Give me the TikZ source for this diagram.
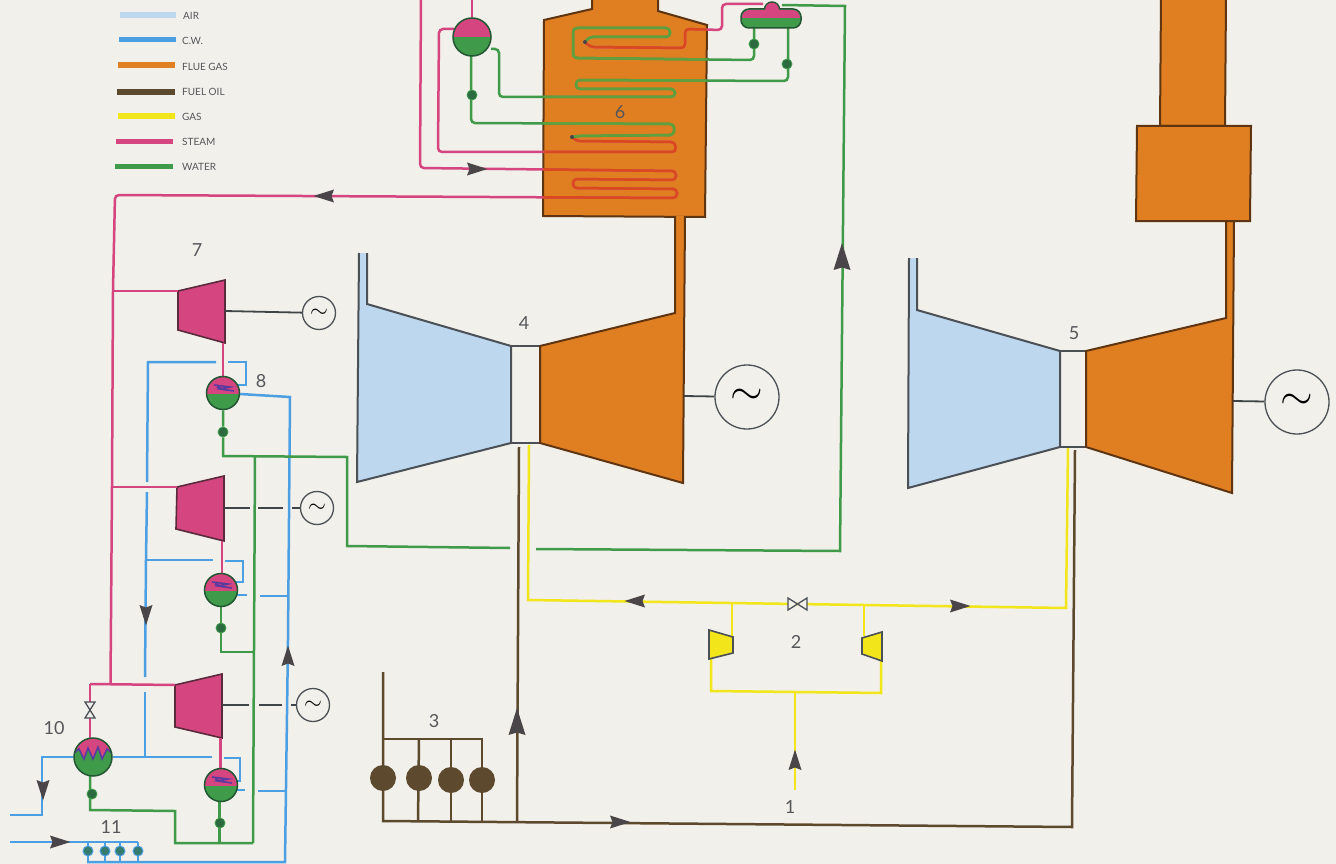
\documentclass[tikz,border=0pt]{standalone}
\usepackage{fontspec}
\usepackage{graphicx}
\setmainfont{Lato}
\usetikzlibrary{calc}
\pgfdeclarelayer{fg}
\pgfsetlayers{main,fg}
\definecolor{paper}{HTML}{F1F0EA}
\definecolor{airc}{HTML}{BCD7EE}
\definecolor{cwc}{HTML}{4C9FE2}
\definecolor{fluec}{HTML}{E07F22}
\definecolor{fluedk}{HTML}{5F3410}
\definecolor{oilc}{HTML}{5D4A2E}
\definecolor{gasc}{HTML}{F2E51A}
\definecolor{steamc}{HTML}{D5457F}
\definecolor{steamdk}{HTML}{5A2A3D}
\definecolor{redc}{HTML}{D9481F}
\definecolor{waterc}{HTML}{3F9A4A}
\definecolor{waterin}{HTML}{5F9F3E}
\definecolor{waterdk}{HTML}{2C6B3F}
\definecolor{steelc}{HTML}{4A5055}
\definecolor{txtc}{HTML}{55565A}
\definecolor{arrowc}{HTML}{4A4548}
\definecolor{purpc}{HTML}{5A3AA0}
\tikzset{
  pipe/.style={line width=2.5pt,line join=miter},
  steampipe/.style={pipe,draw=steamc},
  waterpipe/.style={pipe,draw=waterc},
  cwpipe/.style={pipe,draw=cwc},
  gaspipe/.style={pipe,draw=gasc},
  oilpipe/.style={pipe,draw=oilc},
  coil/.style={rounded corners=4pt},
  shaft/.style={line width=1.8pt,draw=steelc!85!black},
  casing/.style={line width=2pt,draw=steelc,line join=miter},
  fluebody/.style={line width=2pt,draw=fluedk,fill=fluec,line join=miter},
  steamturb/.style={line width=1.6pt,draw=steamdk,fill=steamc,line join=miter},
  gen/.style={circle,draw=steelc,line width=1.3pt,fill=paper,inner sep=0pt,minimum size=#1},
  pump/.style={circle,draw=waterc,fill=waterdk,inner sep=0pt,minimum size=10pt,line width=0.8pt},
  cwpump/.style={circle,draw=cwc,fill=waterdk!70!cwc,inner sep=0pt,minimum size=10pt,line width=1pt},
  burner/.style={circle,fill=oilc,inner sep=0pt,minimum size=26pt},
  drum/.style={circle,draw=waterdk!80!black,line width=1.5pt,fill=steamc,inner sep=0pt,minimum size=#1},
  numlabel/.style={text=txtc,font=\fontsize{18}{18}\selectfont,inner sep=0pt},
  legendlabel/.style={text=txtc,font=\fontsize{10}{10}\selectfont,anchor=west,inner sep=0pt},
  legendbar/.style={line width=5.5pt},
  lowerhalf/.style={path picture={\fill[waterc] ([yshift=0pt]path picture bounding box.west) rectangle (path picture bounding box.south east);}},
  condhalf/.style={path picture={
    \fill[waterc] ([yshift=-1pt]path picture bounding box.west) rectangle (path picture bounding box.south east);
    \begin{scope}[shift={(path picture bounding box.center)}]
      \draw[purpc,line width=1.6pt] (-9,-8) -- (7,-6) -- (-3,-4) -- (11,-2) (-6,-6) -- (3,-3);
    \end{scope}}},
  reheatdrum/.style={path picture={
    \begin{scope}[shift={(path picture bounding box.center)}]
      \fill[waterc] (-20,-8) -- (-14,-8) -- (-9,2) -- (-5,-9) -- (0,2) -- (5,-10) -- (9,2) -- (14,-8) -- (20,-4) -- (20,20) -- (-20,20) -- cycle;
      \draw[purpc,line width=1.5pt] (-20,-3) -- (-14,-8) -- (-9,2) -- (-5,-9) -- (0,2) -- (5,-10) -- (9,2) -- (14,-8) -- (20,-3);
    \end{scope}}}
}
\newcommand{\flowtip}[3]{\fill[arrowc,shift={(#1,#2)},rotate=#3] (10.5,0) -- (-10,6.5) -- (-7.5,0) -- (-10,-6.5) -- cycle;}
\newcommand{\bigtip}[3]{\fill[arrowc,shift={(#1,#2)},rotate=#3] (14,0) -- (-13,8.5) -- (-10.5,0) -- (-13,-8.5) -- cycle;}
\begin{document}
\begin{tikzpicture}[x=1pt,y=-1pt]
\useasboundingbox (0,0) rectangle (1336,864);
\fill[paper] (0,0) rectangle (1336,864);

% nodes on the top layer
\begin{pgfonlayer}{fg}
  \node[gen=64pt] (genA) at (747,397) {\scalebox{4.2}{$\sim$}};
  \node[gen=64pt] (genB) at (1297,402) {\scalebox{4.2}{$\sim$}};
  \node[gen=33pt] (genC) at (319,313) {\scalebox{2.3}{$\sim$}};
  \node[gen=33pt] (genD) at (317,508) {\scalebox{2.3}{$\sim$}};
  \node[gen=33pt] (genE) at (313,705) {\scalebox{2.3}{$\sim$}};
  \node[drum=38pt,lowerhalf] (drumA) at (472,37) {};
  \node[drum=33pt,condhalf] (condA) at (223,393) {};
  \node[drum=33pt,condhalf] (condB) at (221,590) {};
  \node[drum=33pt,condhalf] (condC) at (221,785) {};
  \node[drum=38pt,reheatdrum] (heater) at (93,757) {};
  \node[pump] (pA) at (472,95) {};
  \node[pump] (pB) at (754,44) {};
  \node[pump] (pC) at (787,64) {};
  \node[pump] (pD) at (223,432) {};
  \node[pump] (pE) at (221,628) {};
  \node[pump] (pF) at (220,823) {};
  \node[pump] (pG) at (92,794) {};
  \node[cwpump] (cpA) at (88,851) {};
  \node[cwpump] (cpB) at (105,851) {};
  \node[cwpump] (cpC) at (120,851) {};
  \node[cwpump] (cpD) at (138,851) {};
  \node[burner] (bA) at (383,778) {};
  \node[burner] (bB) at (419,778) {};
  \node[burner] (bC) at (451,780) {};
  \node[burner] (bD) at (482,780) {};
  \node[numlabel] (n1) at (790,807) {1};
  \node[numlabel] (n2) at (796,642) {2};
  \node[numlabel] (n3) at (434,721) {3};
  \node[numlabel] (n4) at (524,323) {4};
  \node[numlabel] (n5) at (1074,333) {5};
  \node[numlabel] (n6) at (620,112) {6};
  \node[numlabel] (n7) at (197,250) {7};
  \node[numlabel] (n8) at (261,381) {8};
  \node[numlabel] (n10) at (54,728) {10};
  \node[numlabel] (n11) at (111,827) {11};
  % upper steam drum
  \draw[line width=1.5pt,draw=waterdk!80!black,fill=steamc] (772,9.5) circle (7.5);
  \draw[line width=1.5pt,draw=waterdk!80!black,fill=waterc,rounded corners=8pt] (741,9) rectangle (801,28);
  \begin{scope}
    \clip[rounded corners=7.5pt] (742,10) rectangle (800,27);
    \fill[steamc] (735,0) rectangle (805,18);
  \end{scope}
  \fill[steamc] (772,9.5) circle (6.7);
  \fill[steamc] (765,9) rectangle (779,12);
  % throttling valves
  \draw[line width=1.3pt,draw=steelc,fill=paper] (788,598) -- (807,610) -- (807,598) -- (788,610) -- cycle;
  \draw[line width=1.3pt,draw=steelc,fill=paper] (85,702) -- (95,702) -- (85,718) -- (95,718) -- cycle;
\end{pgfonlayer}

% legend
\draw[legendbar,airc] (120,15) -- (176,15);
\draw[legendbar,cwc] (119,39.5) -- (176,39.5);
\draw[legendbar,fluec] (118,65) -- (175,65);
\draw[legendbar,oilc] (117,92) -- (175,92);
\draw[legendbar,gasc] (118,116) -- (175,116);
\draw[legendbar,steamc] (116,141.5) -- (173,141.5);
\draw[legendbar,waterc] (115,166.5) -- (173,166.5);
\node[legendlabel] (lA) at (183,16) {AIR};
\node[legendlabel] (lB) at (182,41) {C.W.};
\node[legendlabel] (lC) at (182,67) {FLUE GAS};
\node[legendlabel] (lD) at (182,92) {FUEL OIL};
\node[legendlabel] (lE) at (182,117) {GAS};
\node[legendlabel] (lF) at (182,142) {STEAM};
\node[legendlabel] (lG) at (182,167) {WATER};

% boiler
\draw[fluebody] (592,-3) -- (592,9) -- (544,20) -- (543,216) -- (705,217) -- (707,25) -- (658,11) -- (658,-3);
\def\boilerclip{(592,-3) -- (592,9) -- (544,20) -- (543,216) -- (705,217) -- (707,25) -- (658,11) -- (658,-3) -- cycle}

% steam and water coils
\def\steamA{(763,4) -- (722,4) -- (722,30) -- (685,29) -- (685,48) -- (590,47) -- (585,42)}
\def\steamB{(454,29) -- (439,29) -- (438,152) -- (676,152) -- (675,142) -- (576,141) -- (572,137)}
\def\steamC{(421,-3) -- (420,168) -- (676,171) -- (676,180) -- (573,179) -- (573,188) -- (677,189) -- (677,198) -- (115,195) -- (113,290) -- (112,487) -- (110.5,684)}
\def\waterA{(754,28) -- (754,60) -- (573,58) -- (573,28) -- (670,28) -- (670,37) -- (589,37) -- (585,42)}
\def\waterB{(491,49) -- (499,49) -- (499,97) -- (675,97) -- (675,89) -- (576,89) -- (576,80) -- (788,81) -- (788,28)}
\def\waterC{(471,56) -- (471,123) -- (674,124) -- (674,135) -- (577,136) -- (572,137)}
\draw[steampipe,coil] \steamA;
\draw[steampipe,coil] \steamB;
\draw[steampipe,coil] \steamC;
\draw[steampipe] (drumA.north) -- (472,-3);
\draw[waterpipe,coil] \waterA;
\draw[waterpipe,coil] \waterB;
\draw[waterpipe,coil] \waterC;
\begin{scope}
  \clip \boilerclip;
  \draw[pipe,draw=redc,coil] \steamA;
  \draw[pipe,draw=redc,coil] \steamB;
  \draw[pipe,draw=redc,coil] \steamC;
  \draw[pipe,draw=waterin,coil] \waterA;
  \draw[pipe,draw=waterin,coil] \waterB;
  \draw[pipe,draw=waterin,coil] \waterC;
\end{scope}
\fill[arrowc] (572,137) circle (2);
\fill[arrowc] (585,42) circle (2);
\flowtip{477}{169}{0}
\flowtip{324}{196}{180}

% gas turbine 4
\fill[airc] (359,253) -- (367,253) -- (367,304) -- (511,346) -- (511,443) -- (357,482) -- cycle;
\draw[casing] (359,253) -- (357,482) -- (511,443) -- (511,346) -- (367,304) -- (367,253);
\draw[casing] (511,346) -- (540,346) (511,443) -- (540,443);
\fill[fluec] (675,216) -- (685,216) -- (683,483) -- (540,443) -- (540,346) -- (675,313) -- cycle;
\draw[fluebody,fill=none] (675,216) -- (675,313) -- (540,346) -- (540,443) -- (683,483) -- (685,216);
\coordinate (turbA) at (684,396);
\draw[shaft] (turbA) -- (genA);

% gas turbine 5
\fill[airc] (909,258) -- (917,258) -- (917,310) -- (1060,351) -- (1060,447) -- (908,488) -- cycle;
\draw[casing] (909,258) -- (908,488) -- (1060,447) -- (1060,351) -- (917,310) -- (917,258);
\draw[casing] (1060,351) -- (1086,351) (1060,447) -- (1086,447);
\fill[fluec] (1226,221) -- (1234,221) -- (1232,493) -- (1086,447) -- (1086,351) -- (1226,318) -- cycle;
\draw[fluebody,fill=none] (1226,221) -- (1226,318) -- (1086,351) -- (1086,447) -- (1232,493) -- (1234,221);
\coordinate (turbB) at (1233,401);
\draw[shaft] (turbB) -- (genB);

% stack
\draw[fluebody] (1161,-3) -- (1160,126) -- (1225,126) -- (1226,-3);
\draw[fluebody] (1137,126) -- (1251,126) -- (1250,221) -- (1136,221) -- cycle;

% steam turbines
\draw[steamturb] (178,291) -- (225,280) -- (225,343) -- (178,330) -- cycle;
\draw[steamturb] (177,487) -- (224,476) -- (224,541) -- (176,529) -- cycle;
\draw[steamturb] (175,685) -- (222,674) -- (222,738) -- (175,727) -- cycle;
\draw[shaft] (225,311) -- (genC);
\draw[shaft] (224,508) -- (250,508) (258,508) -- (283,508) (292,508) -- (genD);
\draw[shaft] (222,705) -- (249,705) (259,705) -- (282,705) (291,705) -- (genE);

% steam branches
\draw[steampipe] (113,291) -- (178,291);
\draw[steampipe] (112,487) -- (177,487);
\draw[steampipe] (90,684) -- (175,685);
\draw[steampipe] (90,684) -- (90,740);
\draw[steampipe] (223,343) -- (condA);
\draw[steampipe] (222,541) -- (222,575);
\draw[steampipe] (220.5,738) -- (220.5,770);

% cooling water
\draw[cwpipe] (234,385) -- (246,385) -- (246,362) -- (228,362);
\draw[cwpipe] (216,362) -- (148,362) -- (147,482);
\draw[cwpipe] (147,492) -- (146,560);
\draw[cwpipe] (146,560) -- (213,560);
\draw[cwpipe] (225,561) -- (243,561) -- (243,582) -- (233,582);
\draw[cwpipe] (146,560) -- (145,677);
\draw[cwpipe] (145,692) -- (145,757);
\draw[cwpipe] (heater) -- (212,757);
\draw[cwpipe] (224,758) -- (240,758) -- (240,781) -- (233,781);
\draw[cwpipe] (condA) -- (290,397) -- (288,640) -- (285,862) -- (87,862);
\draw[cwpipe] (236,595) -- (247,595);
\draw[cwpipe] (260,596) -- (288,596);
\draw[cwpipe] (236,790) -- (245,790);
\draw[cwpipe] (258,791) -- (285,791);
\draw[cwpipe] (heater) -- (42,757) -- (42,815) -- (10,815);
\draw[cwpipe] (10,842) -- (138,842);
\foreach \x in {88,105,120,138}{\draw[cwpipe] (\x,842) -- (\x,862);}
\flowtip{146}{615}{-90}
\flowtip{288}{656}{90}
\flowtip{43}{790}{-90}
\flowtip{60}{842}{0}

% feed water
\draw[waterpipe] (condA) -- (pD) -- (223,456) -- (347,457) -- (347,546) -- (510,548);
\draw[waterpipe] (536,549) -- (840,551) -- (845,6) -- (782,5);
\draw[waterpipe] (255,456) -- (253,843);
\draw[waterpipe] (221,606) -- (pE) -- (221,652) -- (253,652);
\draw[waterpipe] (219.5,800) -- (219.5,843);
\draw[waterpipe] (90,775) -- (90,810) -- (175,811) -- (175,843) -- (253,843);
\bigtip{842}{257}{90}

% gas
\draw[gaspipe] (529,445) -- (528,600) -- (1066,608) -- (1068,448);
\draw[gaspipe] (732,603) -- (732,636);
\draw[gaspipe] (864,605) -- (864,636);
\draw[gaspipe] (711,659) -- (711,691) -- (881,693) -- (881,661);
\draw[gaspipe] (795,693) -- (795,790);
\draw[line width=1.6pt,draw=steelc,fill=gasc,line join=miter] (709,630) -- (733,637) -- (733,653) -- (709,659) -- cycle;
\draw[line width=1.6pt,draw=steelc,fill=gasc,line join=miter] (862,638) -- (882,632) -- (882,661) -- (862,654) -- cycle;
\flowtip{635}{601}{180}
\flowtip{960}{606}{0}
\flowtip{795}{760}{90}

% fuel oil
\draw[oilpipe] (383,672) -- (383,821) -- (1072,827) -- (1075,450);
\draw[oilpipe] (519,447) -- (517,822);
\draw[oilpipe] (383,739) -- (482,739) -- (482,822);
\draw[oilpipe] (419,739) -- (418,822);
\draw[oilpipe] (451,739) -- (451,822);
\bigtip{517}{722}{90}
\flowtip{620}{822}{0}
\end{tikzpicture}
\end{document}
